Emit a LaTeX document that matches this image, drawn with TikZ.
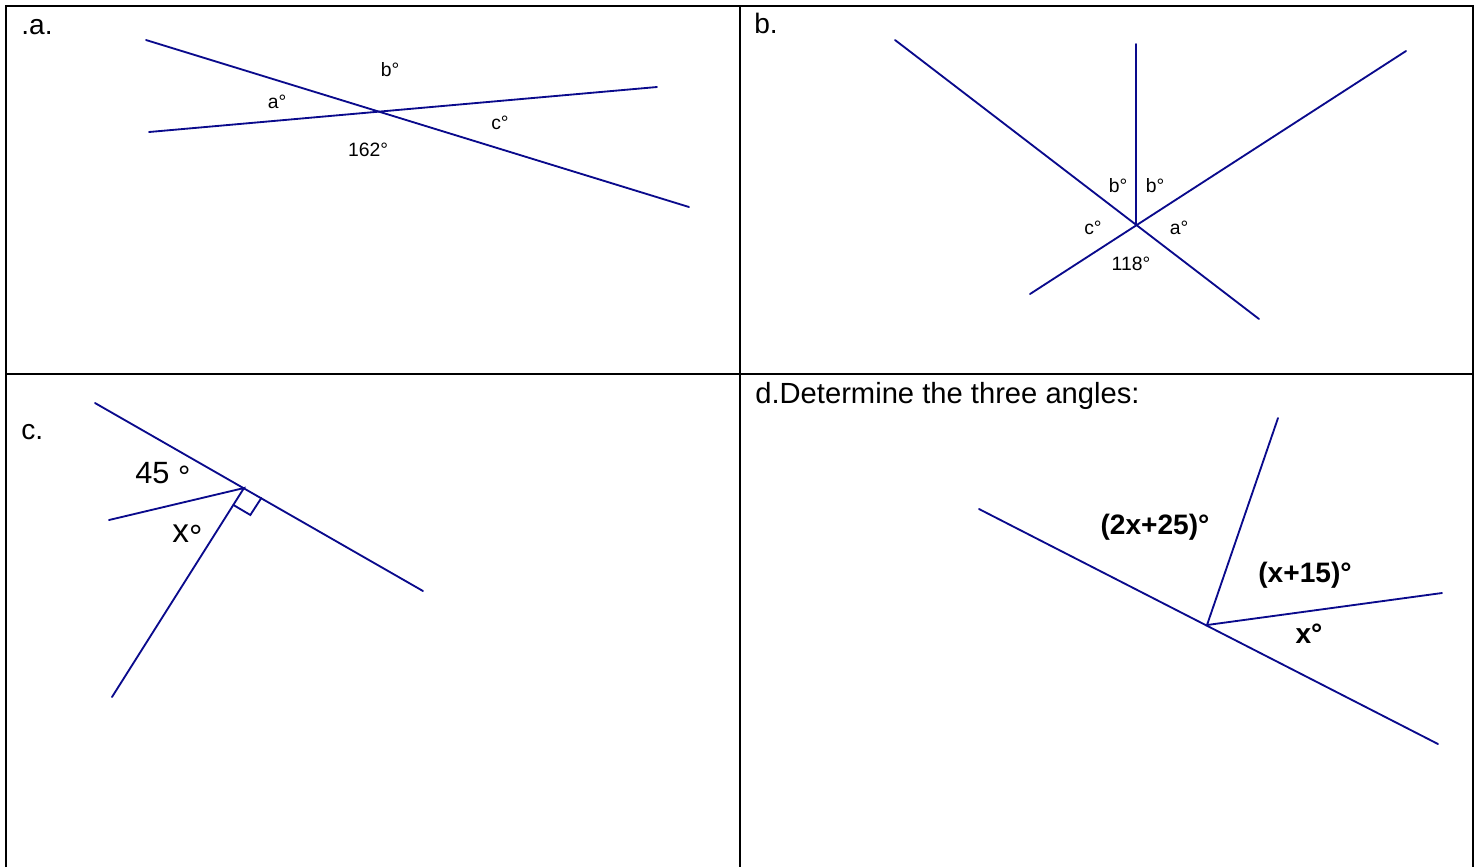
\documentclass[tikz,border=0pt]{standalone}
\usepackage{fontspec}
\setmainfont{Liberation Sans}
\usetikzlibrary{calc}
\definecolor{ink}{RGB}{10,10,140}
\begin{document}
\begin{tikzpicture}[x=0.02cm, y=-0.02cm, line cap=round,
		cell/.style={line width=1pt, line cap=butt},
		ray/.style={draw=ink, line width=1.05pt},
		tag/.style={anchor=base west, inner sep=0pt, font=\fontsize{16}{19}\selectfont},
		deg/.style={inner sep=0pt, font=\fontsize{11}{13}\selectfont},
		big/.style={inner sep=0pt, font=\fontsize{17.5}{20}\selectfont},
		bold/.style={inner sep=0pt, font=\fontsize{16}{19}\selectfont\bfseries}]
		\def\W{1479}\def\H{867}\def\mx{740}\def\my{374}
		\useasboundingbox (0,0) rectangle (\W,\H);
		% table
		\coordinate (L0) at (6,\H);
		\coordinate (L1) at (6,6);
		\coordinate (R1) at (1473,6);
		\coordinate (R0) at (1473,\H);
		\draw[cell] (L0) -- (L1) -- (R1) -- (R0);
		\draw[cell] (6,\my) -- (1473,\my);
		\draw[cell] (\mx,6) -- (\mx,\H);
		\node[tag] (ta) at (21,34) {.a.};
		\node[tag] (tb) at (754,33) {b.};
		\node[tag] (tc) at (21,439) {c.};
		\node[tag, font=\fontsize{16.6}{19}\selectfont] (td) at (755,403) {d.Determine the three angles:};
		% a: two crossing lines
		\coordinate (A1) at (146,40);
		\coordinate (A2) at (689,207);
		\coordinate (A3) at (149,132);
		\coordinate (A4) at (657,87);
		\draw[ray] (A1) -- (A2);
		\draw[ray] (A3) -- (A4);
		\node[deg] (aa) at (277,102) {a°};
		\node[deg] (ab) at (390,70) {b°};
		\node[deg] (ac) at (500,123) {c°};
		\node[deg] (ad) at (368,150) {162°};
		% b: three lines through one point
		\coordinate (O) at (1136,224);
		\coordinate (B1) at (895,40);
		\coordinate (B2) at (1259,319);
		\coordinate (B3) at (1030,294);
		\coordinate (B4) at (1406,51);
		\coordinate (B5) at (1136,44);
		\draw[ray] (B1) -- (B2);
		\draw[ray] (B3) -- (B4);
		\draw[ray] (O) -- (B5);
		\node[deg] (bb1) at (1118,186) {b°};
		\node[deg] (bb2) at (1155,186) {b°};
		\node[deg] (bc) at (1093,228) {c°};
		\node[deg] (ba) at (1179,228) {a°};
		\node[deg] (bd) at (1131,264) {118°};
		% c: right angle
		\coordinate (V) at (244,488);
		\coordinate (C1) at (95,403);
		\coordinate (C2) at (423,591);
		\coordinate (C3) at (109,520);
		\coordinate (C4) at (112,697);
		\draw[ray] (C1) -- (C2);
		\draw[ray] (C3) -- (V) -- (C4);
		\draw[ray] ($(V)!0.4cm!(C2)$) -- ++(-11,17) -- ($(V)!0.4cm!(C4)$);
		\node[big, anchor=base west] (c45) at (135,483) {45 \raisebox{-0.13em}{°}};
		\node[big, anchor=base west, font=\fontsize{19}{22}\selectfont] (cx) at (172,542) {x\raisebox{-0.2em}{°}};
		% d: three angles on a line
		\coordinate (P) at (1207,625);
		\coordinate (D1) at (979,509);
		\coordinate (D2) at (1438,744);
		\coordinate (D3) at (1278,418);
		\coordinate (D4) at (1442,593);
		\draw[ray] (D1) -- (D2);
		\draw[ray] (D3) -- (P) -- (D4);
		\node[bold] (d1) at (1155,527) {(2x+25)°};
		\node[bold] (d2) at (1305,575) {(x+15)°};
		\node[bold] (d3) at (1309,634) {x°};
	\end{tikzpicture}
\end{document}
